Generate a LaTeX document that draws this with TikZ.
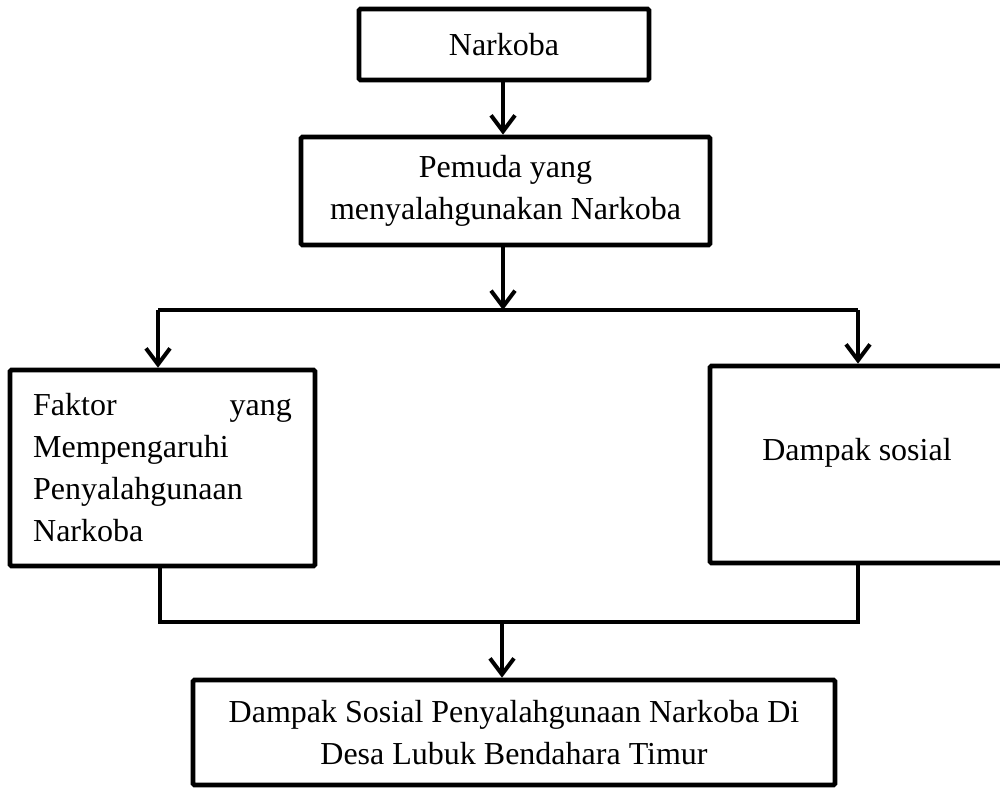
\documentclass[tikz,border=0pt]{standalone}
\usepackage{fontspec}
\setmainfont{Liberation Serif}
\usetikzlibrary{arrows.meta}
\begin{document}
\begin{tikzpicture}[x=0.75pt,y=-0.75pt,
  box/.style={draw, line width=3.5pt, rectangle, rounded corners=1pt, inner sep=0pt,
    align=center, font=\fontsize{24}{31.5}\selectfont},
  link/.style={line width=3pt},
  arr/.style={link, -{Straight Barb[length=12pt,width=18pt]}}]
\path[use as bounding box] (0,0) rectangle (1000,789);

\node[box, minimum width=217.5pt, minimum height=53.25pt] (n1) at (504,44.5) {Narkoba};
\node[box, minimum width=306.75pt, minimum height=81pt] (n2) at (505.5,191)
  {Pemuda yang\\menyalahgunakan Narkoba};
\node[box, minimum width=228.75pt, minimum height=147pt, text width=194pt, align=left] (fak) at (162.5,468)
  {Faktor\hfill yang\\Mempengaruhi\\Penyalahgunaan\\Narkoba};
\node[box, minimum width=220.5pt, minimum height=147.75pt, text depth=23pt] (dam) at (857,464.5)
  {Dampak sosial};
\node[box, minimum width=481.5pt, minimum height=78.75pt] (res) at (514,732.5)
  {Dampak Sosial Penyalahgunaan Narkoba Di\\Desa Lubuk Bendahara Timur};

\coordinate (t) at (503,310);
\coordinate (tl) at (158,310);
\coordinate (tr) at (858,310);
\coordinate (bl) at (160,622);
\coordinate (br) at (858,622);
\coordinate (bm) at (502,622);

\draw[arr] (n1.south -| t) -- (n2.north -| t);
\draw[arr] (n2.south -| t) -- (t);
\draw[link] (tl) -- (tr);
\draw[arr] (tl) -- (tl |- fak.north);
\draw[arr] (tr) -- (tr |- dam.north);
\draw[link, line join=miter] (fak.south -| bl) -- (bl) -- (br) -- (dam.south -| br);
\draw[arr] (bm) -- (bm |- res.north);
\end{tikzpicture}
\end{document}
